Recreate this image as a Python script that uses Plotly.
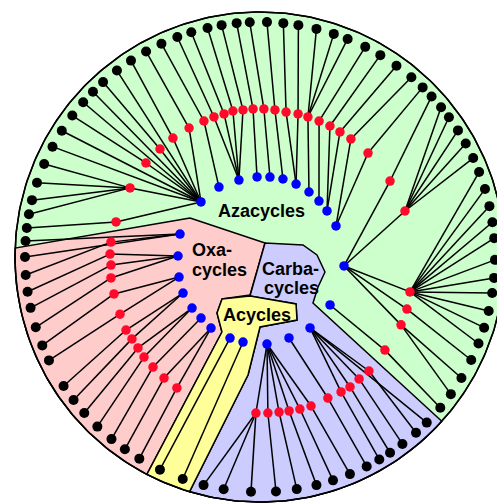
import numpy as np
import plotly.graph_objects as go

# ---------------- data (polar: theta = degrees clockwise from top, r = radius) -------------
blue_ids = ["A1", "A2", "A3", "A4", "A5", "A6", "A7", "A8", "A9", "A10", "A11", "A12", "A13",
            "C1", "C2", "C3", "Y1", "Y2", "O1", "O2", "O3", "O4", "O5", "O6", "O7"]
blue_theta = [313.0, 329.6, 344.7, 357.9, 7.1, 16.4, 26.3, 37.0, 46.5, 55.5, 67.8, 96.1, 124.4,
              144.8, 160.3, 175.4, 191.3, 200.3, 214.6, 224.0, 233.1, 244.9, 256.1, 270.7, 286.0]
blue_r = [80.7, 81.1, 79.8, 80.1, 80.6, 81.3, 81.4, 81.4, 81.3, 81.3, 82.1, 84.5, 84.9,
          86.8, 86.0, 87.3, 86.7, 86.4, 86.3, 84.9, 85.0, 85.0, 83.4, 82.0, 83.2]

red_ids = ["G1", "G2", "G3", "G4", "G5", "G6", "G7", "G8", "G9", "G10", "G11", "G12", "G13", "G14",
           "G15", "G16", "G17", "G18", "G19", "G20", "G21", "G22", "G23", "G24", "G25", "G26", "G27",
           "G28", "K1", "K2", "K3", "K4", "K5", "K6", "K7", "K8", "K9", "K10", "K11",
           "P1", "P2", "P3", "P4", "P5", "P6", "P7", "P8", "P9", "P10", "P11", "P12", "P13"]
red_theta = [283.7, 298.0, 309.5, 317.2, 323.8, 331.2, 337.6, 341.8, 345.9, 349.5, 353.4, 357.3, 1.5, 5.8,
             10.2, 14.9, 18.9, 23.5, 28.1, 32.6, 37.6, 46.1, 59.7, 72.4, 103.1, 109.5, 115.7,
             126.7, 136.3, 140.9, 145.3, 149.0, 154.3, 161.1, 165.3, 169.3, 173.0, 177.1, 181.5,
             275.7, 271.1, 266.9, 262.0, 255.8, 247.8, 241.4, 237.4, 233.3, 229.2, 224.2, 218.4, 212.4]
red_r = [148.2, 147.2, 147.8, 147.2, 147.4, 147.2, 147.1, 147.4, 147.5, 148.5, 148.0, 148.2, 148.1, 147.8,
         147.3, 148.0, 148.0, 148.2, 148.5, 148.4, 149.0, 149.9, 150.6, 152.1, 154.0, 155.9, 156.5,
         155.8, 157.7, 157.1, 158.1, 157.4, 156.5, 157.5, 157.2, 156.7, 156.2, 156.2, 156.1,
         149.8, 150.0, 149.2, 150.5, 150.6, 151.2, 152.6, 152.0, 152.2, 153.2, 153.5, 154.5, 155.1]
red_parent = ["A1", "A1", "A1", "A1", "A1", "A1", "A2", "A3", "A3", "A3", "A3", "A4", "A5", "A6",
              "A7", "A7", "A8", "A9", "A10", "A10", "A11", "A11", "A12", "A12", "A12", "A12", "A12",
              "A13", "C1", "C1", "C1", "C1", "C2", "C3", "C3", "C3", "C3", "C3", "C3",
              "O7", "O6", "O6", "O6", "O5", "O5", "O4", "O4", "O3", "O3", "O2", "O1", "O1"]

leaf_theta = [1.7, 5.7, 9.4, 13.9, 18.3, 21.9, 26.6, 30.8, 35.5, 40.1, 43.8, 46.9, 50.4, 53.5,
              57.4, 61.1, 65.1, 68.8, 73.2, 77.5, 81.5, 85.4, 90.7, 95.1, 98.8, 103.3, 107.5,
              111.6, 116.0, 121.0, 125.7, 129.9, 134.8, 138.4, 142.7, 146.4, 149.5, 153.0,
              157.5, 161.9, 166.1, 171.0, 176.1, 182.2, 188.9, 193.9, 199.2, 205.2, 210.9,
              215.1, 219.2, 223.8, 228.4, 232.5, 236.7, 243.9, 247.9, 252.6, 257.5, 261.5,
              265.6, 270.0, 273.9, 277.1, 280.5, 284.0, 288.4, 293.3, 298.0, 302.5, 307.0,
              311.2, 314.7, 318.1, 322.5, 326.7, 331.0, 335.2, 339.4, 343.0, 347.1, 350.6,
              354.3, 357.5]
leaf_parent = ["G14", "G15", "G16", "G17", "G17", "G17", "G18", "G19", "G20", "G21", "G22", "G23", "G24", "G24",
               "G24", "G24", "G24", "G25", "G25", "G25", "G25", "G25", "G25", "G25", "G25", "G25", "G25",
               "G25", "G26", "G27", "G27", "G28", "C1", "K1", "K2", "K3", "K4", "K5",
               "K6", "K7", "K8", "K9", "K10", "K11", "K11", "K11", "Y1", "Y2", "P13",
               "P12", "P11", "P10", "P9", "P8", "P7", "P6", "P5", "P4", "P3", "P2",
               "P1", "O7", "O7", "G1", "G2", "G2", "G2", "G2", "A1", "A1", "G3",
               "A1", "A1", "G4", "A1", "G5", "G6", "G7", "G8", "G9", "G10", "G11",
               "G12", "G13"]
leaf_r = 235.0

# region outlines (polar vertices, interior part; outer arc added from the circle)
circle_r = 245.0
pink_inner_theta = [299.1, 19.7, 194.7, 222.1, 217.5, 206.9]
pink_inner_r = [80.1, 14.9, 39.3, 56.6, 70.6, 84.1]
pink_arc = (207.5, 272.1)
yellow_inner_theta = [185.8, 180.0, 149.6, 142.5, 194.4, 222.1, 217.5, 206.9]
yellow_inner_r = [118.6, 70.0, 73.1, 59.2, 40.3, 56.6, 70.6, 84.1]
yellow_arc = (207.5, 196.7)
lav_inner_theta = [185.8, 180.0, 149.6, 142.5, 194.4, 19.7, 74.4, 88.0, 103.0, 117.3, 131.0]
lav_inner_r = [118.6, 70.0, 73.1, 59.2, 40.3, 14.9, 44.6, 57.0, 66.7, 65.3, 70.2]
lav_arc = (132.1, 196.7)

labels = ["<b>Azacycles</b>", "<b>Oxa-</b>", "<b>cycles</b>", "<b>Carba-</b>", "<b>cycles</b>", "<b>Acycles</b>"]
label_x = [1, -70, -70, 30, 31, -3]
label_y = [46, 7, -12.5, -11.5, -31, -58]
label_anchor = ["center", "left", "left", "center", "center", "center"]

GREEN, PINK, YELLOW, LAV = "#CCFFCC", "#FFCCCC", "#FFFF99", "#CCCCFF"
RED, BLUE = "#FF0A2A", "#0000FF"


def pxy(theta, r):
    t = np.radians(np.asarray(theta, float))
    r = np.asarray(r, float)
    return r * np.sin(t), r * np.cos(t)


pos = {}
for i, t, r in zip(blue_ids, blue_theta, blue_r):
    pos[i] = pxy(t, r)
for i, t, r in zip(red_ids, red_theta, red_r):
    pos[i] = pxy(t, r)
red_par = dict(zip(red_ids, red_parent))

fig = go.Figure()


def arc(t0, t1, n=80):
    ts = np.linspace(t0, t1, n)
    return pxy(ts, np.full(n, circle_r))


# background disc
bx, by = arc(0, 360, 361)
fig.add_trace(go.Scatter(x=bx, y=by, fill="toself", fillcolor=GREEN, mode="lines",
                         line=dict(color="black", width=1.5), hoverinfo="skip"))


def region(inner_t, inner_r, a, color):
    ax, ay = arc(a[0], a[1])
    ix, iy = pxy(inner_t, inner_r)
    xs = np.concatenate([ix, ax, ix[:1]])
    ys = np.concatenate([iy, ay, iy[:1]])
    fig.add_trace(go.Scatter(x=xs, y=ys, fill="toself", fillcolor=color, mode="lines",
                             line=dict(color="black", width=1.5), hoverinfo="skip"))


region(pink_inner_theta, pink_inner_r, pink_arc, PINK)
region(lav_inner_theta, lav_inner_r, lav_arc, LAV)
region(yellow_inner_theta, yellow_inner_r, yellow_arc, YELLOW)

fig.add_trace(go.Scatter(x=bx, y=by, mode="lines", line=dict(color="black", width=1.5),
                         hoverinfo="skip"))

# edges
ex, ey = [], []
lx, ly = pxy(leaf_theta, np.full(len(leaf_theta), leaf_r))
for k, p in enumerate(leaf_parent):
    ex += [lx[k], float(pos[p][0]), None]
    ey += [ly[k], float(pos[p][1]), None]
for i in red_ids:
    p = red_par[i]
    ex += [float(pos[i][0]), float(pos[p][0]), None]
    ey += [float(pos[i][1]), float(pos[p][1]), None]
fig.add_trace(go.Scatter(x=ex, y=ey, mode="lines", line=dict(color="black", width=1.5),
                         hoverinfo="skip"))

# nodes
rx, ry = pxy(red_theta, red_r)
bxn, byn = pxy(blue_theta, blue_r)
fig.add_trace(go.Scatter(x=lx, y=ly, mode="markers", marker=dict(color="black", size=10)))
fig.add_trace(go.Scatter(x=rx, y=ry, mode="markers", marker=dict(color=RED, size=9.5)))
fig.add_trace(go.Scatter(x=bxn, y=byn, mode="markers", marker=dict(color=BLUE, size=9.5)))

for t, x, y, a in zip(labels, label_x, label_y, label_anchor):
    fig.add_annotation(x=x, y=y, text=t, showarrow=False, xanchor=a, yanchor="middle",
                       font=dict(family="Liberation Sans, Arial", size=18, color="black"))

fig.update_layout(width=497, height=503, margin=dict(l=0, r=0, t=0, b=0),
                  paper_bgcolor="white", plot_bgcolor="white", showlegend=False,
                  xaxis=dict(range=[-260, 237], visible=False, fixedrange=True),
                  yaxis=dict(range=[-246, 257], visible=False, fixedrange=True))
fig.write_html("out.html", config={"responsive": False, "displayModeBar": False},
               post_script="document.body.style.margin='0';document.body.style.overflow='hidden';")
